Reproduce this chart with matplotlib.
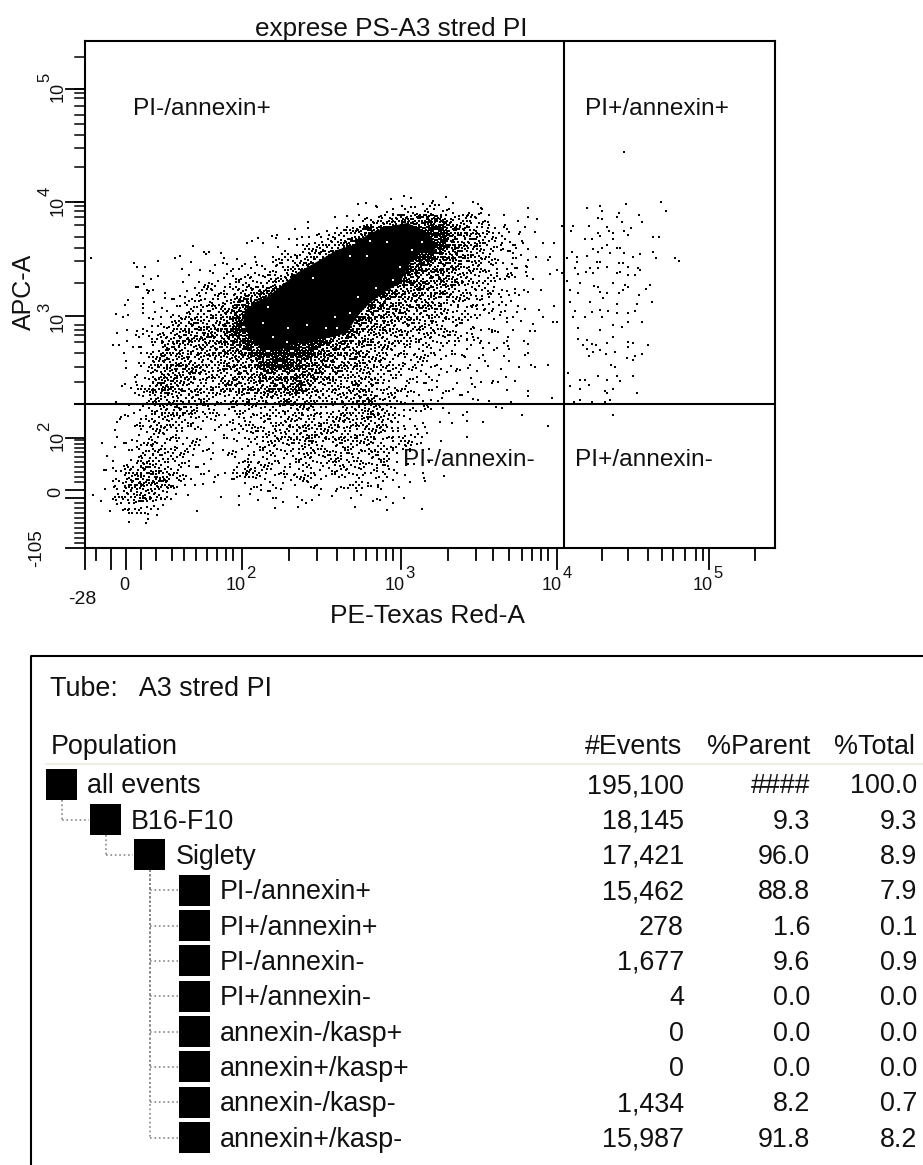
import matplotlib
matplotlib.use("Agg")
import matplotlib.pyplot as plt
import numpy as np
from matplotlib.patches import Rectangle

plt.rcParams['font.family'] = ['Liberation Sans', 'DejaVu Sans']

## event density of the dot plot, one string per row (top row first), one digit per bin
## 0 = empty, 8 and 9 = very dense
density_rows = [
  "000000 000000 000000 000000 010110 000000",
  "000000 000000 000000 000011 122322 110000",
  "000000 000000 000000 011234 566764 432110",
  "000000 000000 000011 223578 888886 543211",
  "000000 000000 001123 346789 999986 553221",
  "000000 001111 112334 578999 999866 543221",
  "000000 111222 223356 899999 997665 443221",
  "000110 112223 334579 999999 876565 433221",
  "001111 123334 567899 999998 656554 333221",
  "001112 233446 789999 999976 555543 332211",
  "011122 344457 899999 999765 554443 322211",
  "011223 455568 999999 997655 444433 222111",
  "011234 555567 999999 866554 443333 221111",
  "001235 545556 789998 665544 333322 211111",
  "001245 554455 578876 655544 333222 111110",
  "001245 554445 566666 554443 322221 111100",
  "012356 544455 556675 444543 332222 111100",
  "011244 444334 444544 434553 322221 111000",
  "012234 543323 333344 334454 322211 101000",
  "011344 332223 333444 444444 322111 100000",
  "011233 322122 334445 444443 332110 000000",
  "012343 332222 233334 334343 332100 000000",
  "112443 321112 333233 343334 211100 000000",
  "124554 322213 532333 233323 211110 000000",
  "135555 321111 222223 212322 110100 000000",
  "134543 110011 122011 111112 010000 000000",
  "123321 001001 001001 000101 101000 000000",
  "001110 000000 000000 000000 000000 000000",
]

## outline of the solid black core of the cloud, (PE channel, APC channel)
core_outline = [
  (160,238),(168,245),(182,251),(195,261),(212,275),(235,288),(252,298),(268,303),(285,315),(302,321),
  (322,325),(338,318),(352,303),(348,295),(335,295),(325,285),(315,265),(298,255),(285,245),(275,235),
  (268,225),(262,215),(248,211),(228,208),(212,205),(195,198),(178,198),(165,211),(158,225),
]

## small holes inside the core
core_holes = [
  (282,292),(265,292),(228,270),(250,231),(265,235),(273,251),(291,260),(308,268),(315,281),(327,298),
  (337,306),(285,307),(302,306),(222,223),(203,220),(188,211),(202,206),(252,220),(241,220),(178,225),
  (292,243),(300,243),(295,248),(302,256),(183,241),(165,243),
]

## single events read from the outer parts of the cloud, (PE channel, APC channel)
outer_events = [
  (539,396),(541,344),(576,346),(581,337),(502,340),(515,342),(517,337),(513,330),(517,329),(504,322),
  (488,322),(486,317),(534,335),(532,331),(537,326),(554,333),(557,326),(546,320),(539,317),(543,313),
  (522,321),(524,317),(528,315),(513,315),(515,312),(500,309),(507,309),(528,309),(568,311),(574,311),
  (522,303),(517,300),(508,299),(502,292),(513,296),(532,300),(525,295),(535,300),(539,295),(548,291),
  (555,294),(568,296),(571,290),(590,290),(594,287),(482,290),(487,296),(492,291),(492,286),(512,286),
  (515,286),(505,280),(513,280),(522,281),(534,285),(538,285),(543,281),(553,280),(555,278),(490,280),
  (493,274),(501,276),(508,275),(532,275),(535,276),(543,273),(550,273),(565,263),(561,259),(482,267),
  (495,265),(509,262),(513,261),(528,265),(540,263),(543,261),(485,258),(493,255),(515,256),(522,255),
  (534,255),(538,258),(554,253),(485,246),(505,246),(518,250),(567,246),(532,244),(552,244),(490,237),
  (515,238),(523,237),(532,235),(543,235),(550,237),(500,231),(507,236),(488,231),(517,231),
  (493,220),(515,218),(528,223),(537,221),(543,226),(557,226),(493,209),(502,208),(507,204),(511,203),
  (498,203),(522,205),(528,211),(543,206),(548,205),(563,203),(502,199),(508,196),(515,198),(521,194),
  (530,196),(543,201),(504,192),(542,190),(548,188),(550,192),(557,194),(526,183),(530,181),(483,175),
  (495,168),(500,168),(504,163),(513,172),(522,168),(532,172),(535,167),(548,172),(485,162),(495,159),
  (520,157),(522,155),(528,159),(552,155),(489,146),(495,148),(507,146),(520,146),(525,148),(528,133),
  (443,195),(419,192),(424,187),(446,183),(450,181),(463,183),(430,167),(413,166),(396,166),(387,164),
  (443,157),(443,152),(393,148),(426,146),(467,150),(417,140),(437,133),(378,133),(398,126),(463,122),
  (382,111),(383,180),(400,187),(419,205),(439,207),(423,211),(389,208),(395,205),(398,200),(379,192),
  (382,209),(448,224),(450,217),(468,226),(472,226),(422,226),(407,218),(389,220),
  (388,346),(393,344),(396,340),(396,335),(443,340),(443,331),(452,329),(419,333),(477,322),(450,316),
  (435,316),(424,316),(403,326),(403,320),(408,315),(417,312),(417,305),(418,299),(437,307),(430,303),
  (428,295),(443,299),(458,305),(469,305),(465,291),(463,288),(451,291),(443,288),(427,284),(442,281),
  (432,280),(441,276),(472,278),(465,274),(477,275),(412,275),(422,272),(430,259),(448,269),(443,256),
  (456,258),(469,242),(454,238),(433,242),(417,258),(405,255),(395,248),(408,246),(387,241),(399,238),
  (415,233),(458,231),(432,236),
  (6,290),(49,285),(52,281),(60,281),(58,272),(73,287),(73,272),(90,290),(95,292),(108,302),
  (119,296),(139,290),(162,305),(167,307),(173,310),(178,305),(187,312),(191,310),(192,313),(223,326),
  (223,320),(217,311),(232,313),(273,344),(291,342),(306,349),(319,352),(326,341),(302,336),(282,330),
  (252,320),(261,318),(248,311),(43,248),(62,258),(68,258),(63,255),(58,250),(58,240),(38,231),
  (34,203),(39,195),(41,187),(54,201),(17,105),(8,53),(21,78),(30,118),(30,101),(32,126),
  (63,29),(47,35),(198,46),(213,41),(217,48),(247,52),(276,53),(263,60),(293,63),(308,68),
]

x_short_ticks = [11, 71, 87, 99, 111, 122, 132, 141, 148, 204, 232, 252, 269, 281, 292, 301, 308,
                 363, 391, 408, 424, 437, 447, 456, 463, 517, 543, 563, 577, 588, 600, 611, 618, 670]
x_long_ticks = [0, 26, 41, 56, 157, 316, 472, 624]
y_short_ticks = [491, 459, 455, 450, 442, 433, 424, 413, 400, 381, 346, 342, 337, 331, 323, 311, 300, 287, 265]
y_long_ticks = [0, 50, 58, 110, 232, 346, 459]
y_low_ticks = [5, 10, 15, 20, 25, 30, 35, 40, 45, 66, 71, 76, 81, 86, 91, 96, 100, 104, 108]
y_mid_ticks = [144, 166, 181, 195, 206, 213, 218, 223]

gate_pe = 479
gate_apc = 144

populations = ["all events", "B16-F10", "Siglety", "PI-/annexin+", "PI+/annexin+", "PI-/annexin-",
               "PI+/annexin-", "annexin-/kasp+", "annexin+/kasp+", "annexin-/kasp-", "annexin+/kasp-"]
levels = [0, 1, 2, 3, 3, 3, 3, 3, 3, 3, 3]
n_events = ["195,100", "18,145", "17,421", "15,462", "278", "1,677", "4", "0", "0", "1,434", "15,987"]
pct_parent = ["####", "9.3", "96.0", "88.8", "1.6", "9.6", "0.0", "0.0", "0.0", "8.2", "91.8"]
pct_total = ["100.0", "9.3", "8.9", "7.9", "0.1", "0.9", "0.0", "0.0", "0.0", "0.7", "8.2"]

## how many dots a density digit stands for, and where they fall inside a bin
dots_per_level = [0, 1, 3, 7, 11, 16, 22, 30, 40, 40]
bin_spots = [(.15,.2),(.65,.7),(.7,.15),(.2,.7),(.45,.45),(.9,.45),(.45,.9),(.05,.45),(.45,.05),(.85,.88),
             (.3,.35),(.58,.3),(.33,.58),(.78,.6),(.12,.87),(.92,.05),(.6,.52),(.25,.05),(.02,.02),(.72,.35),
             (.1,.62),(.55,.12),(.82,.25),(.38,.78),(.68,.9),(.95,.72),(.22,.45),(.5,.68),(.8,.42),(.35,.18),
             (.05,.25),(.62,.42),(.9,.28),(.25,.92),(.55,.82),(.12,.35),(.42,.28),(.72,.78),(.98,.95),(.38,.98)]

W, H = 923, 1165
BIN = 12
BIN_X0 = 15
BIN_Y0 = 358

fig = plt.figure(figsize=(W / 100, H / 100), dpi=100)

# whole figure in pixels, for the labels and the population table
pg = fig.add_axes([0, 0, 1, 1])
pg.set_xlim(0, W)
pg.set_ylim(H, 0)
pg.axis("off")

ax = fig.add_axes([85 / W, 1 - 548 / H, 690 / W, 507 / H])
ax.set_xlim(0, 690)
ax.set_ylim(0, 507)
ax.set_xticks([])
ax.set_yticks([])
ax.patch.set_alpha(0)
for s in ax.spines.values():
  s.set_linewidth(1.5)

dots_x, dots_y = [], []
for r, row in enumerate(density_rows):
  row = row.replace(" ", "")
  for c, ch in enumerate(row):
    left = BIN_X0 + c * BIN
    bottom = BIN_Y0 - (r + 1) * BIN
    start = r * 7 + c * 11
    for k in range(dots_per_level[int(ch)]):
      u, v = bin_spots[(start + k) % len(bin_spots)]
      if (r + c) % 2:
        u = 1 - u
      dots_x.append(left + u * BIN)
      dots_y.append(bottom + v * BIN)

outer = np.array(outer_events)
core = np.array(core_outline)
holes = np.array(core_holes)
ax.scatter(dots_x, dots_y, s=1.6, marker="s", c="black", linewidths=0)
ax.scatter(outer[:, 0], outer[:, 1], s=1.6, marker="s", c="black", linewidths=0)
ax.fill(core[:, 0], core[:, 1], color="black", lw=0)
ax.scatter(holes[:, 0], holes[:, 1], s=2.2, marker="s", c="white", linewidths=0)

ax.axvline(gate_pe, color="black", lw=1.5)
ax.axhline(gate_apc, color="black", lw=1.5)
ax.plot([-10, 0], [gate_apc, gate_apc], color="black", lw=1.5, clip_on=False)

# ticks are drawn by hand, the instrument axis is not a plain log axis
for t in x_short_ticks:
  ax.plot([t, t], [0, -12], color="black", lw=1.3, clip_on=False)
for t in x_long_ticks:
  ax.plot([t, t], [0, -21], color="black", lw=1.3, clip_on=False)
for t in y_short_ticks + y_low_ticks + y_mid_ticks:
  ax.plot([0, -10], [t, t], color="black", lw=1.1, clip_on=False)
for t in y_long_ticks:
  ax.plot([0, -19], [t, t], color="black", lw=1.3, clip_on=False)


def label(px, py, s, size=17.6, rot=0, ha="center"):
  # text sits about 2 px high with va=center, rotated text about 2 px left
  if rot:
    px += 2
  else:
    py += 2
  pg.text(px, py, s, fontsize=size, rotation=rot, ha=ha, va="center", color="#111111")


label(391, 27, "exprese PS-A3 stred PI", size=18.8)
label(133, 107, "PI-/annexin+", ha="left")
label(585, 107, "PI+/annexin+", ha="left")
label(403, 458, "PI-/annexin-", ha="left")
label(575, 458, "PI+/annexin-", ha="left")
label(428, 614, "PE-Texas Red-A", size=19)
label(22, 292, "APC-A", size=18, rot=90)

for px, sup in [(236, "2"), (395, "3"), (552, "4"), (703, "5")]:
  label(px, 584, "10", size=13)
  label(px + 15, 572, sup, size=12)
label(124, 584, "0", size=13)
label(82, 597, "-28", size=14)

for py, sup in [(92, "5"), (206, "4"), (322, "3"), (441, "2")]:
  label(56, py, "10", size=13, rot=90)
  label(43, py - 15, sup, size=12, rot=90)
label(54, 492, "0", size=13, rot=90)
label(35, 548, "-105", size=13.5, rot=90)

# population table
TS = 19.4
pg.plot([31, 31, W], [H, 656, 656], color="black", lw=1.5)
pg.plot([46, W], [764, 764], color="#f0efe6", lw=1.5)
label(50, 687, "Tube:   A3 stred PI", size=TS, ha="left")
label(51, 745, "Population", size=TS, ha="left")
label(682, 745, "#Events", size=TS, ha="right")
label(810, 745, "%Parent", size=TS, ha="right")
label(915, 745, "%Total", size=TS, ha="right")

ROW0 = 784.3
ROW_H = 35.33
IND = 44.2
SQ = 31
for i, name in enumerate(populations):
  y = ROW0 + i * ROW_H
  x = 46 + levels[i] * IND
  pg.add_patch(Rectangle((x, y - SQ / 2), SQ, SQ, facecolor="black", edgecolor="none"))
  label(x + SQ + 10, y, name, size=TS, ha="left")
  label(684, y, n_events[i], size=TS, ha="right")
  label(810, y, pct_parent[i], size=TS, ha="right")
  label(917, y, pct_total[i], size=TS, ha="right")
  if i > 0:
    vx = 46 + (levels[i] - 1) * IND + SQ / 2
    pg.plot([vx, x - 1], [y, y], color="#888888", lw=1.2, ls=":")
    top = ROW0 + (levels[i] - 1) * ROW_H + SQ / 2
    pg.plot([vx, vx], [top, y], color="#888888", lw=1.2, ls=":")

fig.savefig("out.png", dpi=100)
